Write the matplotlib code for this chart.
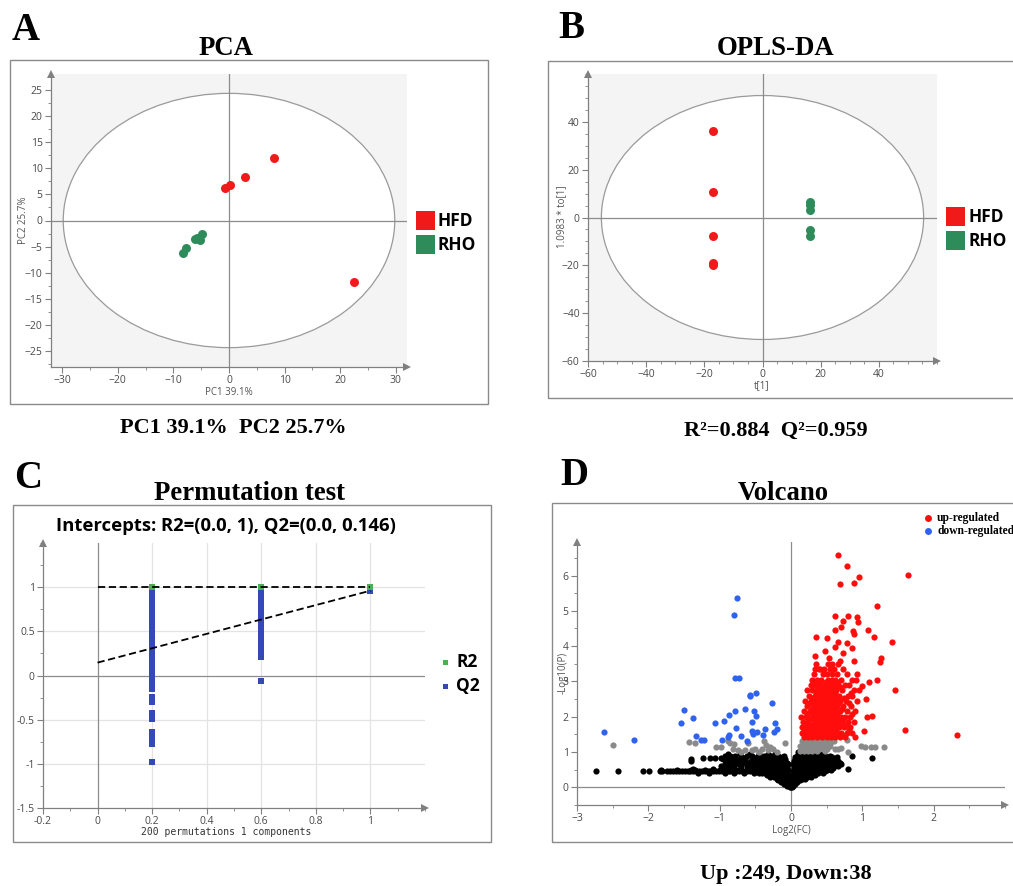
import matplotlib
matplotlib.use('Agg')
import matplotlib.pyplot as plt
from matplotlib.patches import Ellipse, Rectangle
from matplotlib.lines import Line2D
from matplotlib.ticker import MultipleLocator, FixedLocator

# ---------------- DATA ----------------
groups = ['HFD', 'RHO']

# PCA scores
pca_hfd_x = [-0.8, 0.1, 2.9, 8.1, 22.4]
pca_hfd_y = [6.2, 6.7, 8.3, 11.9, -11.8]
pca_rho_x = [-4.9, -5.3, -5.7, -6.1, -7.7, -8.3]
pca_rho_y = [-2.6, -3.7, -3.3, -3.6, -5.2, -6.3]
pca_ellipse = (29.8, 24.3)

# OPLS-DA scores
opls_hfd_x = [-16.9, -16.9, -16.9, -16.9, -16.9]
opls_hfd_y = [36.1, 10.6, -7.8, -19.2, -20.0]
opls_rho_x = [16.5, 16.5, 16.5, 16.5, 16.5]
opls_rho_y = [6.3, 5.2, 3.2, -5.2, -7.7]
opls_ellipse = (55.4, 51.0)

# Permutation test
perm_r2_x = [0.2, 0.6, 1.0]
perm_r2_y = [1.0, 1.0, 1.0]
perm_q2_x02 = [0.93, 0.89, 0.85, 0.81, 0.77, 0.73, 0.69, 0.65, 0.61, 0.57, 0.53, 0.49,
               0.45, 0.41, 0.37, 0.33, 0.29, 0.25, 0.21, 0.17, 0.13, 0.09, 0.05, 0.01,
               -0.03, -0.08, -0.12, -0.15, -0.24, -0.28, -0.30, -0.43, -0.47, -0.49,
               -0.64, -0.67, -0.71, -0.76, -0.78, -0.98]
perm_q2_x06 = [0.93, 0.89, 0.85, 0.81, 0.77, 0.73, 0.69, 0.65, 0.61, 0.57, 0.53, 0.49,
               0.45, 0.41, 0.37, 0.33, 0.29, 0.25, 0.21, -0.065]
perm_q2_x10 = [0.96]
r2_intercept = (0.0, 1.0)
q2_intercept = (0.0, 0.146)
q2_end = 0.96

# Volcano: up-regulated outliers + dense rows (y -> x values)
up_x = [0.66, 0.78, 0.96, 0.89, 0.68, 1.64, 1.21, 0.62, 0.80, 0.93, 0.94, 0.73, 0.70,
        0.62, 1.08, 0.87, 0.88, 0.35, 0.50, 0.66, 1.16, 1.41, 0.78, 0.85, 0.62, 0.48,
        0.73, 0.33, 0.53, 0.69, 0.89, 1.26, 1.25, 0.39, 0.73, 1.46, 1.20, 1.10, 1.00,
        0.91, 1.05, 1.06, 1.14, 1.03, 1.60, 2.33]
up_y = [6.57, 6.26, 5.95, 5.78, 5.75, 6.01, 5.15, 4.84, 4.84, 4.82, 4.68, 4.71, 4.55,
        4.47, 4.45, 4.43, 4.33, 4.26, 4.24, 4.13, 4.25, 4.12, 4.09, 3.95, 3.98, 3.86,
        3.81, 3.71, 3.67, 3.57, 3.57, 3.65, 3.54, 3.34, 3.34, 2.77, 3.03, 2.98, 2.88,
        3.03, 2.50, 1.98, 2.03, 1.59, 1.62, 1.47]
up_rows = {
    3.50: [0.35, 0.52, 0.58, 0.66],
    3.35: [0.33, 0.40, 0.46, 0.55, 0.60],
    3.20: [0.32, 0.45, 0.50, 0.57, 0.64, 0.78, 0.92],
    3.05: [0.30, 0.36, 0.42, 0.52, 0.58, 0.62, 0.70, 0.85],
    2.98: [0.33, 0.40, 0.49, 0.55, 0.64],
    2.90: [0.28, 0.34, 0.40, 0.47, 0.55, 0.60, 0.66, 0.75, 0.82],
    2.83: [0.38, 0.45, 0.52, 0.58, 0.69],
    2.75: [0.22, 0.30, 0.37, 0.44, 0.50, 0.56, 0.63, 0.71, 0.88, 0.95],
    2.68: [0.35, 0.42, 0.48, 0.54, 0.61, 0.84],
    2.60: [0.25, 0.33, 0.39, 0.46, 0.53, 0.59, 0.67, 0.80, 0.86],
    2.53: [0.30, 0.37, 0.44, 0.51, 0.57, 0.63, 0.74],
    2.45: [0.20, 0.28, 0.35, 0.42, 0.48, 0.54, 0.61, 0.69, 0.77, 0.92],
    2.38: [0.26, 0.33, 0.40, 0.47, 0.53, 0.59, 0.66, 0.81],
    2.30: [0.23, 0.31, 0.38, 0.45, 0.51, 0.57, 0.64, 0.73, 0.84],
    2.22: [0.29, 0.36, 0.43, 0.50, 0.56, 0.62, 0.71],
    2.15: [0.18, 0.26, 0.34, 0.41, 0.47, 0.53, 0.60, 0.68, 0.79, 0.90],
    2.08: [0.23, 0.31, 0.38, 0.45, 0.51, 0.58, 0.65, 0.86],
    2.00: [0.14, 0.21, 0.29, 0.36, 0.43, 0.49, 0.55, 0.62, 0.70, 0.76, 0.83],
    1.93: [0.25, 0.32, 0.40, 0.46, 0.52, 0.59, 0.66, 0.73],
    1.85: [0.17, 0.24, 0.32, 0.39, 0.45, 0.51, 0.58, 0.65, 0.72, 0.80, 0.88],
    1.78: [0.20, 0.27, 0.34, 0.41, 0.48, 0.55, 0.62, 0.69, 0.77],
    1.70: [0.15, 0.22, 0.28, 0.35, 0.42, 0.48, 0.54, 0.61, 0.67, 0.74, 0.83],
    1.63: [0.18, 0.24, 0.30, 0.37, 0.44, 0.50, 0.56, 0.63, 0.81],
    1.55: [0.16, 0.20, 0.26, 0.33, 0.40, 0.46, 0.52, 0.58, 0.64, 0.70, 0.78, 0.86],
    1.48: [0.21, 0.27, 0.35, 0.41, 0.47, 0.53, 0.60, 0.66, 0.72],
    1.42: [0.18, 0.24, 0.30, 0.37, 0.43, 0.50, 0.56, 0.62, 0.68, 0.75, 0.90],
}

down_x = [-0.76, -0.80, -0.78, -0.73, -0.58, -0.57, -0.49, -0.27, -0.64, -0.78, -0.52,
          -0.49, -0.87, -0.94, -1.07, -1.50, -1.37, -1.54, -0.54, -0.77, -0.23, -0.36,
          -0.20, -0.24, -0.48, -0.53, -0.39, -1.33, -1.26, -1.22, -0.97, -0.87, -0.89,
          -0.61, -2.62, -2.20, -0.55, -0.70]
down_y = [5.37, 4.87, 3.11, 3.11, 2.58, 2.63, 2.67, 2.39, 2.22, 2.17, 2.15, 2.03, 2.05,
          1.89, 1.81, 2.20, 1.96, 1.81, 1.84, 1.69, 1.81, 1.64, 1.64, 1.57, 1.56, 1.52,
          1.49, 1.46, 1.35, 1.35, 1.35, 1.49, 1.42, 1.32, 1.57, 1.35, 1.60, 1.45]

ns_grey_x = [-2.50, -1.43, -1.35, -1.05, -0.98, -0.88, -0.85, -0.80, -0.82, -0.75, -0.70,
             -0.60, -0.50, -0.45, -0.38, -0.35, -0.32, -0.30, -0.25, -0.20, -0.08, -0.55,
             -0.65, -0.40, 0.78, 0.80, 0.98, 1.04, 1.12, 1.18, 1.31, 0.70, 0.60, 0.66]
ns_grey_y = [1.20, 1.28, 1.25, 1.15, 1.15, 1.30, 1.25, 1.22, 1.10, 1.05, 1.00, 1.25, 1.10,
             1.00, 1.30, 1.20, 1.05, 1.15, 1.10, 1.00, 1.25, 1.05, 1.05, 1.10, 1.35, 1.00,
             1.17, 1.15, 1.15, 1.15, 1.15, 1.12, 1.30, 1.08]
grey_rows = {
    1.32: [0.16, 0.22, 0.28, 0.34, 0.40, 0.46, 0.52, 0.58],
    1.25: [0.19, 0.25, 0.31, 0.37, 0.43, 0.49, 0.55],
    1.18: [0.13, 0.19, 0.25, 0.31, 0.37, 0.43, 0.49, 0.55],
    1.10: [0.15, 0.21, 0.27, 0.33, 0.39, 0.45, 0.51, 0.62],
    1.02: [0.12, 0.18, 0.24, 0.30, 0.36, 0.47],
}

ns_black_x = [-1.40, -1.40, -1.23, -1.13, -1.07, -0.98, 0.80, 0.85, 1.13, 0.70]
ns_black_y = [0.80, 0.74, 0.82, 0.82, 0.82, 0.82, 0.53, 0.90, 0.82, 0.65]
black_rows = {
    0.45: [-2.73, -2.43, -2.08, -1.99, -1.83, -1.81, -1.74, -1.69, -1.65, -1.61, -1.57,
           -1.53, -1.49, -1.45, -1.41, -1.37, -1.33, -1.29, -1.25, -1.21, -1.17, -1.13,
           -1.09, -1.05, -1.01, -0.97, -0.93, -0.89, -0.85, -0.81, -0.77, -0.73, -0.69,
           -0.65, -0.61, -0.57, 0.03, 0.08, 0.12, 0.17, 0.22, 0.28, 0.34, 0.40, 0.47],
    0.48: [-1.82, -1.60, -1.40, -1.35, -1.20, -1.00, -0.90, -0.75, -0.62],
    0.52: [-1.38, -1.10, -0.95, -0.85, -0.70, -0.55, -0.45],
    0.42: [-1.30, -1.15, -0.92, -0.80, -0.66, -0.52, -0.40],
    0.95: [-0.88, -0.72, -0.58, -0.45, -0.32, -0.22, 0.11, 0.20, 0.27, 0.33, 0.45],
    0.90: [-0.92, -0.86, -0.78, -0.62, -0.55, -0.38, -0.28, -0.18, -0.10,
           0.08, 0.13, 0.18, 0.24, 0.30, 0.36, 0.42, 0.48, 0.54],
    0.85: [-0.83, -0.68, -0.47, -0.36, -0.26, -0.19, -0.12, 0.06, 0.12, 0.21, 0.28,
           0.34, 0.40, 0.46, 0.52, 0.58, 0.64],
    0.80: [-0.95, -0.88, -0.80, -0.72, -0.65, -0.50, -0.42, -0.33, -0.22, -0.15, -0.08,
           0.05, 0.10, 0.15, 0.20, 0.25, 0.31, 0.37, 0.43, 0.49, 0.55, 0.61],
    0.75: [-0.87, -0.79, -0.64, -0.56, -0.48, -0.40, -0.34, -0.27, -0.20, -0.14, -0.09,
           0.04, 0.09, 0.14, 0.19, 0.24, 0.30, 0.36, 0.42, 0.48, 0.54, 0.60, 0.66],
    0.70: [-0.90, -0.84, -0.76, -0.68, -0.60, -0.53, -0.45, -0.37, -0.30, -0.24, -0.17,
           -0.12, -0.06, 0.07, 0.11, 0.16, 0.21, 0.27, 0.33, 0.39, 0.45, 0.51, 0.57,
           0.63, 0.69],
    0.65: [-0.93, -0.73, -0.58, -0.51, -0.43, -0.35, -0.29, -0.23, -0.18, -0.13, -0.08,
           -0.04, 0.03, 0.08, 0.12, 0.17, 0.22, 0.28, 0.34, 0.40, 0.46, 0.52, 0.58, 0.64],
    0.60: [-0.98, -0.88, -0.80, -0.70, -0.62, -0.55, -0.48, -0.40, -0.33, -0.27, -0.21,
           -0.15, -0.10, -0.05, 0.05, 0.09, 0.13, 0.18, 0.23, 0.29, 0.35, 0.41, 0.47,
           0.53, 0.60, 0.66],
    0.55: [-0.60, -0.46, -0.38, -0.31, -0.25, -0.19, -0.14, -0.10, -0.06, 0.04, 0.08,
           0.12, 0.17, 0.23, 0.29, 0.35, 0.41, 0.47, 0.53, 0.59],
    0.50: [-0.50, -0.42, -0.35, -0.28, -0.22, -0.17, -0.12, -0.08, -0.04, 0.06, 0.10,
           0.15, 0.20, 0.26, 0.32, 0.38, 0.44, 0.50, 0.56],
    0.40: [-0.45, -0.36, -0.30, -0.24, -0.19, -0.14, -0.10, -0.06, 0.05, 0.09, 0.14,
           0.19, 0.25, 0.31, 0.38, 0.45],
    0.35: [-0.33, -0.27, -0.21, -0.16, -0.12, -0.08, -0.04, 0.03, 0.07, 0.11, 0.15,
           0.20, 0.26, 0.33],
    0.30: [-0.30, -0.24, -0.18, -0.13, -0.09, -0.05, -0.02, 0.04, 0.08, 0.12, 0.17,
           0.22, 0.28],
    0.25: [-0.20, -0.15, -0.11, -0.07, -0.04, 0.02, 0.05, 0.10, 0.15, 0.20],
    0.20: [-0.18, -0.13, -0.09, -0.06, -0.03, 0.03, 0.06, 0.09, 0.13],
    0.15: [-0.14, -0.09, -0.05, -0.02, 0.02, 0.05, 0.09],
    0.10: [-0.10, -0.06, -0.03, 0.00, 0.02, 0.05],
    0.05: [-0.05, -0.02, 0.03],
    0.02: [-0.02, 0.00, 0.02],
    0.99: [0.10, 0.16, 0.22, 0.28, 0.34, 0.40],
}
n_up, n_down = 249, 38


def rows_to_xy(rows):
    xs, ys = [], []
    for yv, xl in rows.items():
        xs.extend(xl)
        ys.extend([yv] * len(xl))
    return xs, ys

# ---------------- FIGURE ----------------
W, H = 1013, 886
fig = plt.figure(figsize=(W / 100, H / 100), dpi=100)
SERIF = 'Liberation Serif'
SANS = 'Open Sans'
GREY = '#808080'
RED = '#f01a1a'
GREEN = '#2e8b5a'


def pbox(x0, y0, x1, y1):
    return [x0 / W, 1 - y1 / H, (x1 - x0) / W, (y1 - y0) / H]


def ftext(x, y, s, **kw):
    return fig.text(x / W, 1 - y / H, s, **kw)


def frame(x0, y0, x1, y1):
    fig.add_artist(Rectangle((x0 / W, 1 - y1 / H), (x1 - x0) / W, (y1 - y0) / H,
                             transform=fig.transFigure, fill=False,
                             edgecolor='#8a8a8a', lw=1.0))


def fsquare(x0, y0, size, color):
    fig.add_artist(Rectangle((x0 / W, 1 - (y0 + size) / H), size / W, size / H,
                             transform=fig.transFigure, facecolor=color, edgecolor='none'))


def style(ax, face='white'):
    ax.set_facecolor(face)
    for s in ['top', 'right']:
        ax.spines[s].set_visible(False)
    for s in ['left', 'bottom']:
        ax.spines[s].set_color(GREY)
        ax.spines[s].set_linewidth(0.9)
    ax.tick_params(which='major', length=4, width=0.8, color=GREY, labelsize=7.5,
                   labelcolor='#4a4a4a', direction='out', pad=2)
    ax.tick_params(which='minor', length=2, width=0.6, color=GREY, direction='out')
    for lab in ax.get_xticklabels() + ax.get_yticklabels():
        lab.set_fontfamily(SANS)
    ax.plot([0], [1], marker='^', transform=ax.transAxes, clip_on=False,
            color=GREY, ms=6, mew=0, zorder=10)
    ax.plot([1], [0], marker='>', transform=ax.transAxes, clip_on=False,
            color=GREY, ms=6, mew=0, zorder=10)


# ---- Panel A: PCA ----
frame(10, 60, 488, 404)
axA = fig.add_axes(pbox(51, 74, 407, 367))
axA.set_xlim(-32, 32)
axA.set_ylim(-28, 28)
axA.xaxis.set_major_locator(FixedLocator([-30, -20, -10, 0, 10, 20, 30]))
axA.xaxis.set_minor_locator(FixedLocator([-25, -15, -5, 5, 15, 25]))
axA.yaxis.set_major_locator(FixedLocator([-25, -20, -15, -10, -5, 0, 5, 10, 15, 20, 25]))
axA.yaxis.set_minor_locator(MultipleLocator(2.5))
axA.add_patch(Ellipse((0, 0), 2 * pca_ellipse[0], 2 * pca_ellipse[1], facecolor='white',
                      edgecolor='#9a9a9a', lw=0.9, zorder=1))
axA.axhline(0, color='#8c8c8c', lw=0.9, zorder=2)
axA.axvline(0, color='#8c8c8c', lw=0.9, zorder=2)
axA.scatter(pca_hfd_x, pca_hfd_y, s=42, color=RED, lw=0, zorder=3)
axA.scatter(pca_rho_x, pca_rho_y, s=42, color=GREEN, lw=0, zorder=3)
style(axA, '#f4f4f4')
ftext(229, 395, 'PC1 39.1%', ha='center', va='baseline', fontsize=7, color='#555555', family=SANS)
ftext(24, 220, 'PC2 25.7%', ha='center', va='center', rotation=90, fontsize=7, color='#555555', family=SANS)
for i, (g, c) in enumerate(zip(groups, [RED, GREEN])):
    fsquare(416, 211 + 24 * i, 19, c)
    ftext(437, 221 + 24 * i, g, ha='left', va='center', fontsize=12.5, fontweight='bold', family=SANS)

# ---- Panel B: OPLS-DA ----
frame(548, 61, 1020, 398)
axB = fig.add_axes(pbox(588, 74, 937, 361))
axB.set_xlim(-60, 60)
axB.set_ylim(-60, 60)
axB.xaxis.set_major_locator(FixedLocator([-60, -40, -20, 0, 20, 40]))
axB.xaxis.set_minor_locator(MultipleLocator(5))
axB.yaxis.set_major_locator(FixedLocator([-60, -40, -20, 0, 20, 40]))
axB.yaxis.set_minor_locator(MultipleLocator(5))
axB.add_patch(Ellipse((0, 0), 2 * opls_ellipse[0], 2 * opls_ellipse[1], facecolor='white',
                      edgecolor='#9a9a9a', lw=0.9, zorder=1))
axB.axhline(0, color='#8c8c8c', lw=0.9, zorder=2)
axB.axvline(0, color='#8c8c8c', lw=0.9, zorder=2)
axB.scatter(opls_hfd_x, opls_hfd_y, s=42, color=RED, lw=0, zorder=3)
axB.scatter(opls_rho_x, opls_rho_y, s=42, color=GREEN, lw=0, zorder=3)
style(axB, '#f4f4f4')
ftext(762, 388, 't[1]', ha='center', va='baseline', fontsize=7, color='#555555', family=SANS)
ftext(562, 217, '1.0983 * to[1]', ha='center', va='center', rotation=90, fontsize=7, color='#555555', family=SANS)
for i, (g, c) in enumerate(zip(groups, [RED, GREEN])):
    fsquare(946, 207 + 23.5 * i, 19, c)
    ftext(968, 217 + 23.5 * i, g, ha='left', va='center', fontsize=12.5, fontweight='bold', family=SANS)

# ---- Panel C: Permutation test ----
frame(13, 505, 491, 842)
axC = fig.add_axes(pbox(43, 543, 425, 808))
axC.set_xlim(-0.2, 1.2)
axC.set_ylim(-1.5, 1.5)
axC.xaxis.set_major_locator(FixedLocator([-0.2, 0, 0.2, 0.4, 0.6, 0.8, 1.0]))
axC.xaxis.set_minor_locator(MultipleLocator(0.1))
axC.yaxis.set_major_locator(FixedLocator([-1.5, -1, -0.5, 0, 0.5, 1]))
axC.yaxis.set_minor_locator(MultipleLocator(0.25))
axC.set_xticklabels(['-0.2', '0', '0.2', '0.4', '0.6', '0.8', '1'])
axC.set_yticklabels(['-1.5', '-1', '-0.5', '0', '0.5', '1'])
for xv in [0.2, 0.4, 0.6, 0.8, 1.0]:
    axC.axvline(xv, color='#e3e3e3', lw=0.9, zorder=0)
for yv in [-1, -0.5, 0.5, 1]:
    axC.axhline(yv, color='#e3e3e3', lw=0.9, zorder=0)
axC.axhline(0, color='#8c8c8c', lw=0.9, zorder=1)
axC.axvline(0, color='#8c8c8c', lw=0.9, zorder=1)
Q2C = '#3548b8'
R2C = '#4caf50'
axC.scatter([0.2] * len(perm_q2_x02), perm_q2_x02, marker='s', s=14, color=Q2C, lw=0, zorder=3)
axC.scatter([0.6] * len(perm_q2_x06), perm_q2_x06, marker='s', s=14, color=Q2C, lw=0, zorder=3)
axC.scatter([1.0] * len(perm_q2_x10), perm_q2_x10, marker='s', s=14, color=Q2C, lw=0, zorder=3)
axC.scatter(perm_r2_x, perm_r2_y, marker='s', s=14, color=R2C, lw=0, zorder=4)
axC.plot([0, 1], [r2_intercept[1], perm_r2_y[-1]], ls=(0, (4, 2)), color='black', lw=1.3, zorder=5)
axC.plot([0, 1], [q2_intercept[1], q2_end], ls=(0, (4, 2)), color='black', lw=1.3, zorder=5)
style(axC, 'white')
ftext(226, 531, 'Intercepts: R2=(0.0, 1), Q2=(0.0, 0.146)', ha='center', va='baseline',
      fontsize=13.3, fontweight='bold', family=SANS)
ftext(226, 835, '200 permutations 1 components', ha='center', va='baseline',
      fontsize=7, family='DejaVu Sans Mono', color='#333333')
for i, (g, c) in enumerate(zip(['R2', 'Q2'], [R2C, Q2C])):
    fsquare(442.5, 659.5 + 24 * i, 5, c)
    ftext(456, 662 + 24 * i, g, ha='left', va='center', fontsize=12.5, fontweight='bold', family=SANS)

# ---- Panel D: Volcano ----
frame(552, 503, 1020, 842)
axD = fig.add_axes(pbox(577, 542, 1005, 805))
axD.set_xlim(-3, 3)
axD.set_ylim(-0.5, 6.95)
axD.xaxis.set_major_locator(FixedLocator([-3, -2, -1, 0, 1, 2]))
axD.xaxis.set_minor_locator(MultipleLocator(0.5))
axD.yaxis.set_major_locator(FixedLocator([0, 1, 2, 3, 4, 5, 6]))
axD.yaxis.set_minor_locator(MultipleLocator(0.5))
axD.axhline(0, color='#8c8c8c', lw=0.9, zorder=1)
axD.axvline(0, color='#8c8c8c', lw=0.9, zorder=1)
bx, by = rows_to_xy(black_rows)
axD.scatter(bx + ns_black_x, by + ns_black_y, s=20, color='black', lw=0, zorder=2)
gx, gy = rows_to_xy(grey_rows)
axD.scatter(gx + ns_grey_x, gy + ns_grey_y, s=20, color='#8a8a8a', lw=0, zorder=3)
ux, uy = rows_to_xy(up_rows)
axD.scatter(ux + up_x, uy + up_y, s=20, color='#ff0d0d', lw=0, zorder=4)
axD.scatter(down_x, down_y, s=20, color='#2f62ee', lw=0, zorder=4)
style(axD, 'white')
ftext(791, 833, 'Log2(FC)', ha='center', va='baseline', fontsize=7, color='#555555', family=SANS)
ftext(563, 673, '-Log10(P)', ha='center', va='center', rotation=90, fontsize=7, color='#555555', family=SANS)
for i, (lab, c) in enumerate(zip(['up-regulated', 'down-regulated'], ['#ff0d0d', '#2f62ee'])):
    fig.add_artist(Line2D([928 / W], [1 - (518 + 13 * i) / H], marker='o', ms=5, mew=0,
                          color=c, transform=fig.transFigure))
    ftext(937, 518 + 13 * i, lab, ha='left', va='center', fontsize=8.3, fontweight='bold', family=SERIF)

# ---- Titles, letters, captions ----
for x, y, s in [(226, 55, 'PCA'), (776, 55, 'OPLS-DA'), (249, 500, 'Permutation test'), (783, 500, 'Volcano')]:
    ftext(x, y, s, ha='center', va='baseline', fontsize=19.3, fontweight='bold', family=SERIF)
for x, y, s in [(12, 40, 'A'), (558, 38, 'B'), (14, 488, 'C'), (560, 485, 'D')]:
    ftext(x, y, s, ha='left', va='baseline', fontsize=28, fontweight='bold', family=SERIF)
ftext(233, 433, 'PC1 39.1%  PC2 25.7%', ha='center', va='baseline', fontsize=16, fontweight='bold', family=SERIF)
ftext(776, 436, 'R\u00b2=0.884  Q\u00b2=0.959', ha='center', va='baseline', fontsize=16, fontweight='bold', family=SERIF)
ftext(786, 879, f'Up :{n_up}, Down:{n_down}', ha='center', va='baseline', fontsize=16, fontweight='bold', family=SERIF)

fig.savefig('out.png', dpi=100)
